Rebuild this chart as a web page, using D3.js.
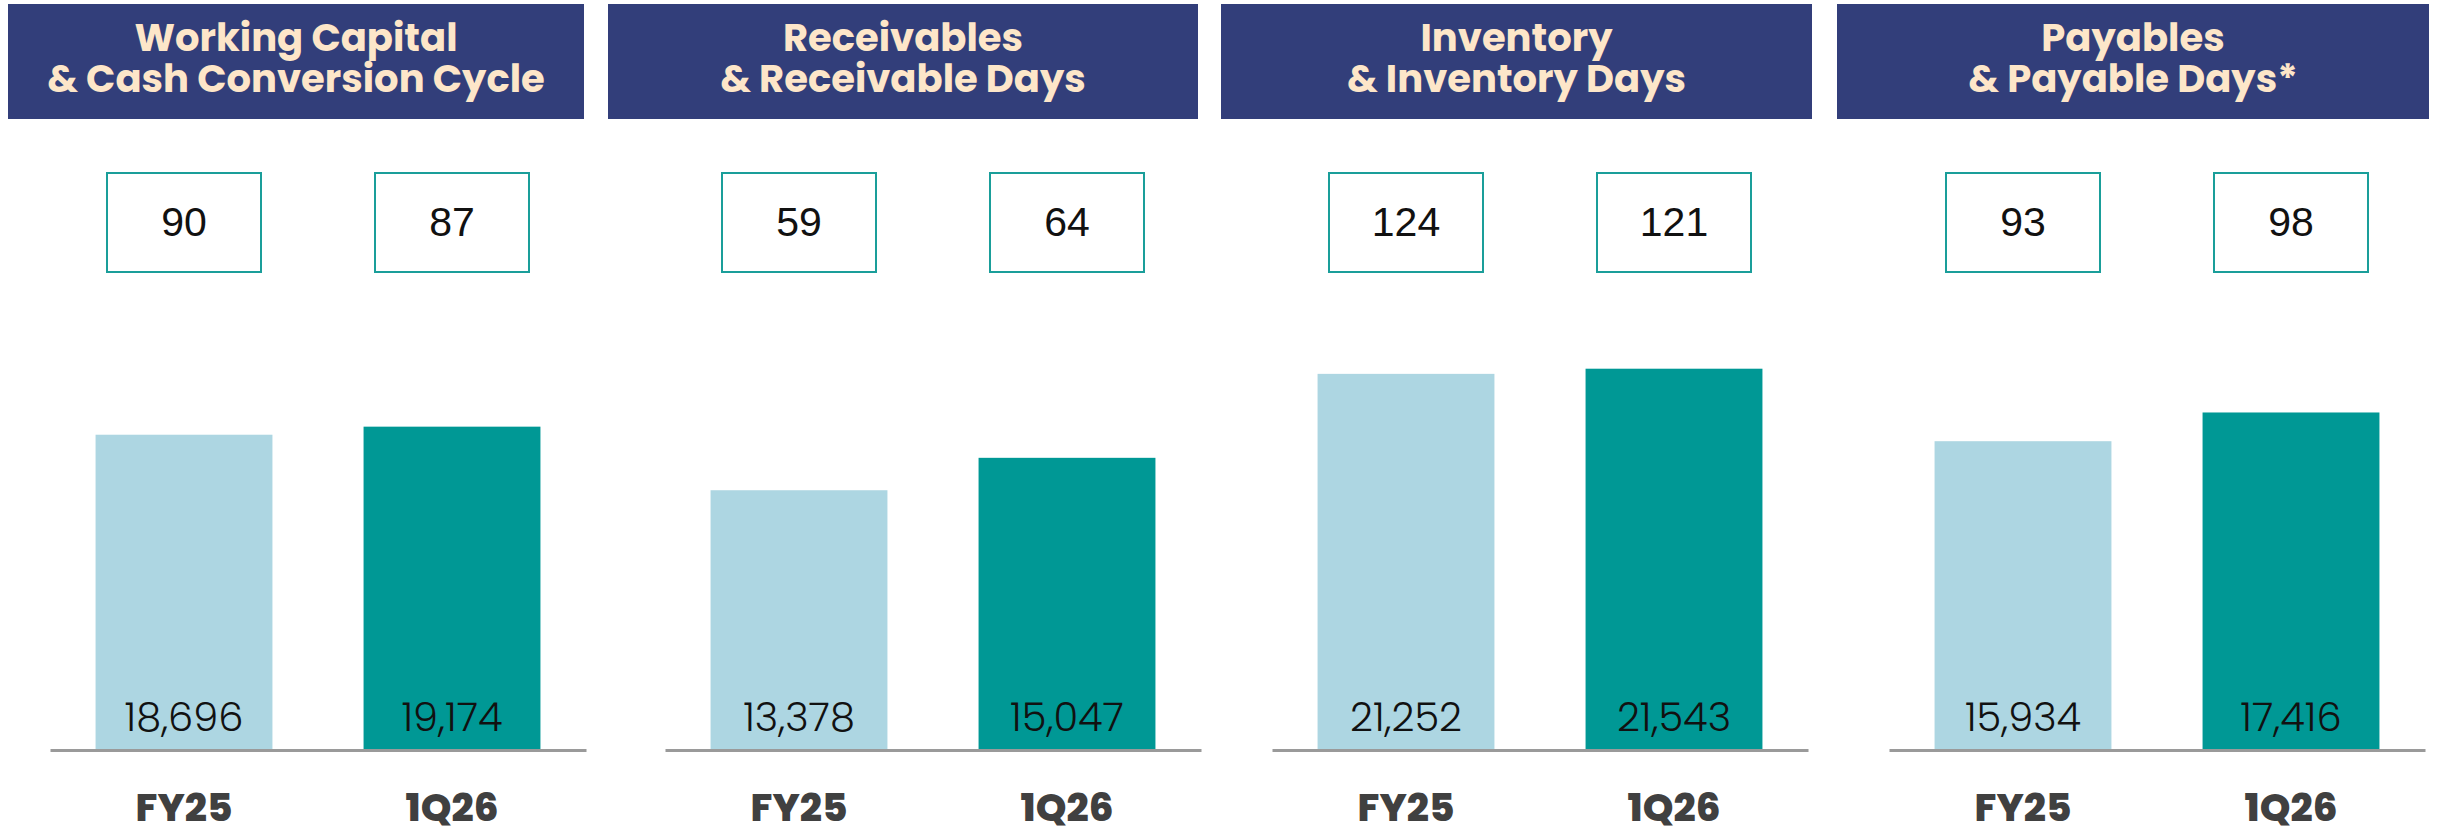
<!DOCTYPE html>
<html>
<head>
    <meta charset="utf-8" />
    <title>Working Capital</title>
    <script src="https://cdn.jsdelivr.net/npm/d3@7"></script>
    <style>
        html, body { margin: 0; padding: 0; background: #fff; }
        svg { display: block; }
    </style>
</head>
<body>
<script>
    // data
    var titles1 = ['Working Capital', 'Receivables', 'Inventory', 'Payables'];
    var titles2 = ['& Cash Conversion Cycle', '& Receivable Days', '& Inventory Days', '& Payable Days*'];
    var periods = ['FY25', '1Q26'];
    var amounts = [[18696, 19174], [13378, 15047], [21252, 21543], [15934, 17416]];
    var days = [[90, 87], [59, 64], [124, 121], [93, 98]];
    var yMax = [29650, 25750, 28250, 25800];

    var width = 2437, height = 829;
    var svg = d3.select('body').append('svg').attr('width', width).attr('height', height);

    // layout per panel: header left/width, axis left
    var layout = [
        {hx: 8, hw: 576, ax: 50},
        {hx: 608, hw: 590, ax: 665},
        {hx: 1221, hw: 591, ax: 1272},
        {hx: 1837, hw: 592, ax: 1889}
    ];
    var axisW = 536, base = 750, plotH = 500;
    var barColors = ['#add6e2', '#009895'];

    titles1.forEach(function(t, i) {
        var L = layout[i];
        var g = svg.append('g');

        // header
        g.append('rect').attr('x', L.hx).attr('y', 4).attr('width', L.hw).attr('height', 115).attr('fill', '#323e7a');
        [t, titles2[i]].forEach(function(s, k) {
            g.append('text').attr('text-anchor', 'middle')
                .attr('x', L.hx + L.hw / 2).attr('y', 51 + k * 41)
                .style('font-family', 'Poppins, Inter, sans-serif').style('font-weight', 700)
                .style('font-size', '38.5px').attr('fill', '#fde6c9')
                .text(s);
        });

        var x = d3.scaleBand().domain(periods).range([L.ax, L.ax + axisW]).paddingInner(0.34).paddingOuter(0.17);
        var y = d3.scaleLinear().domain([0, yMax[i]]).range([base, base - plotH]);

        // day boxes
        var bx = g.selectAll('.box').data(periods).enter().append('g');
        bx.append('rect')
            .attr('x', function(d) { return x(d) + x.bandwidth() / 2 - 77; })
            .attr('y', 173).attr('width', 154).attr('height', 99)
            .attr('fill', '#fff').attr('stroke', '#1a9e9a').attr('stroke-width', 2);
        bx.append('text')
            .attr('x', function(d) { return x(d) + x.bandwidth() / 2; })
            .attr('y', 236).attr('text-anchor', 'middle')
            .style('font-family', '"Liberation Sans", Arial, sans-serif').style('font-size', '41px')
            .attr('fill', '#111')
            .text(function(d, j) { return days[i][j]; });

        // bars
        g.selectAll('.bar').data(amounts[i]).enter().append('rect')
            .attr('x', function(d, j) { return x(periods[j]); })
            .attr('y', function(d) { return y(d); })
            .attr('width', x.bandwidth())
            .attr('height', function(d) { return base - y(d); })
            .attr('fill', function(d, j) { return barColors[j]; });

        g.selectAll('.val').data(amounts[i]).enter().append('text')
            .attr('x', function(d, j) { return x(periods[j]) + x.bandwidth() / 2; })
            .attr('y', base - 19).attr('text-anchor', 'middle')
            .style('font-family', 'Poppins, Inter, sans-serif').style('font-weight', 300)
            .style('font-size', '40px').attr('fill', '#111')
            .text(function(d) { return d3.format(',')(d); });

        // baseline + category labels
        var ax = g.append('g').attr('transform', 'translate(0,' + base + ')')
            .call(d3.axisBottom(x).tickSize(0).tickPadding(0));
        ax.select('.domain').attr('stroke', '#9a9a9a').attr('stroke-width', 3);
        ax.selectAll('.tick text').attr('y', 71).attr('dy', 0)
            .style('font-family', 'Poppins, Inter, sans-serif').style('font-weight', 800)
            .style('font-size', '39px').attr('fill', '#404040');
    });
</script>
</body>
</html>
